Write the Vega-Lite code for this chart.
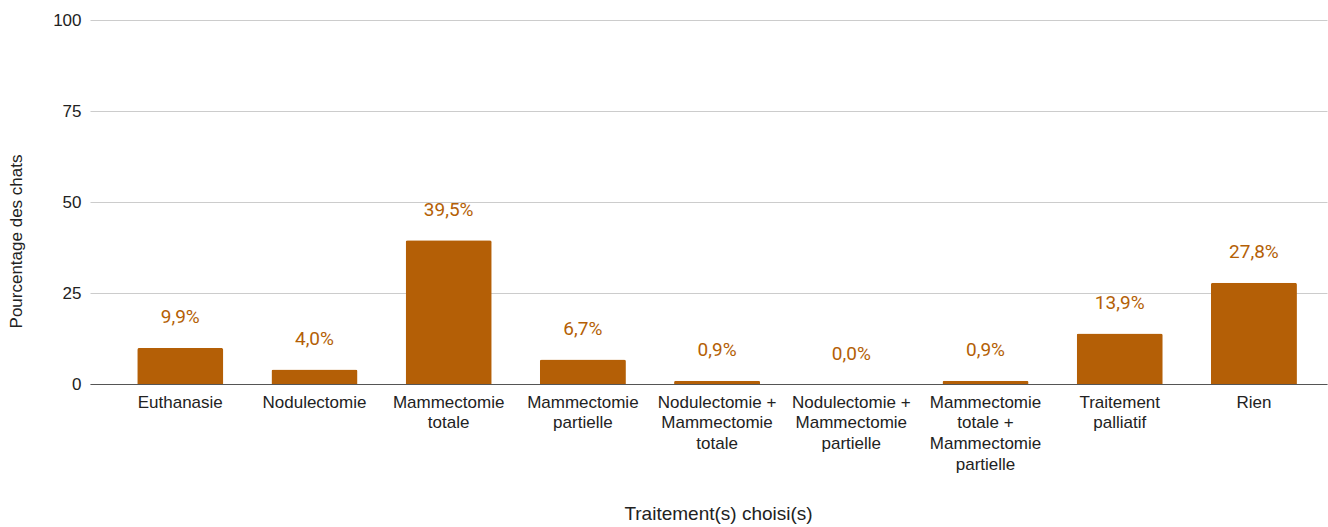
{
  "$schema": "https://vega.github.io/schema/vega-lite/v6.json",
  "autosize": "none",
  "padding": {"left": 90, "top": 20, "right": 1, "bottom": 143},
  "width": 1237,
  "height": 364,
  "data": {"values": [
    {"traitement": "Euthanasie", "pct": 9.9},
    {"traitement": "Nodulectomie", "pct": 4.0},
    {"traitement": "Mammectomie totale", "pct": 39.5},
    {"traitement": "Mammectomie partielle", "pct": 6.7},
    {"traitement": "Nodulectomie + Mammectomie totale", "pct": 0.9},
    {"traitement": "Nodulectomie + Mammectomie partielle", "pct": 0.0},
    {"traitement": "Mammectomie totale + Mammectomie partielle", "pct": 0.9},
    {"traitement": "Traitement palliatif", "pct": 13.9},
    {"traitement": "Rien", "pct": 27.8}
  ]},
  "transform": [
    {"calculate": "replace(format(datum.pct, '.1f'), '.', ',') + '%'", "as": "label"}
  ],
  "encoding": {
    "x": {
      "field": "traitement", "type": "nominal", "sort": null,
      "scale": {"paddingInner": 0.359, "paddingOuter": 0.288, "align": 0.611},
      "axis": {
        "title": "Traitement(s) choisi(s)",
        "labelAngle": 0,
        "labelExpr": "split(replace(datum.label, ' +', '\u00a0+'), ' ')",
        "labelFont": "Liberation Sans", "labelFontSize": 17, "labelColor": "#222222",
        "labelLineHeight": 20.8, "labelPadding": 10, "labelBaseline": "top",
        "ticks": false, "domainColor": "#555555", "domainWidth": 1,
        "titleFont": "Liberation Sans", "titleFontSize": 19, "titleFontWeight": "normal", "titleColor": "#222222",
        "titleX": 628, "titleY": 135.5, "titleAlign": "center", "titleBaseline": "alphabetic",
        "labelOverlap": false, "labelLimit": 0
      }
    },
    "y": {
      "field": "pct", "type": "quantitative",
      "scale": {"domain": [0, 100], "nice": false},
      "axis": {
        "title": "Pourcentage des chats",
        "values": [0, 25, 50, 75, 100],
        "domain": false, "ticks": false,
        "grid": true, "gridColor": "#cccccc", "gridWidth": 1,
        "labelFont": "Liberation Sans", "labelFontSize": 17, "labelColor": "#222222", "labelPadding": 9,
        "titleFont": "Liberation Sans", "titleFontSize": 17, "titleFontWeight": "normal", "titleColor": "#222222",
        "titleX": -68.5, "titleY": 221, "titleAngle": -90, "titleAlign": "center", "titleBaseline": "alphabetic"
      }
    }
  },
  "layer": [
    {"mark": {"type": "bar", "color": "#b45f06", "cornerRadiusTopLeft": 2, "cornerRadiusTopRight": 2}},
    {"mark": {"type": "text", "color": "#b45f06", "font": "Roboto", "fontSize": 19, "baseline": "alphabetic", "dy": -24.5},
     "encoding": {"text": {"field": "label"}}}
  ],
  "config": {"view": {"stroke": null}, "background": "white"}
}
